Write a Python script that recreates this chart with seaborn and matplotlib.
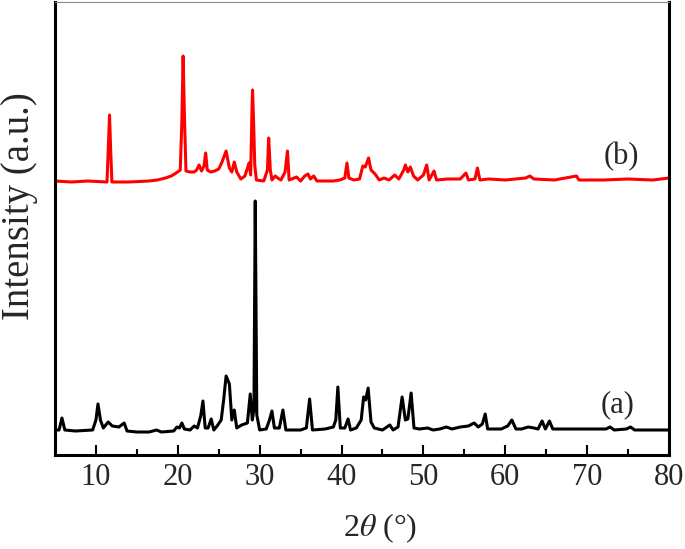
import numpy as np
import pandas as pd
import seaborn as sns
import matplotlib
matplotlib.use("Agg")
import matplotlib.pyplot as plt

sns.set_theme(style="white")
plt.rcParams['font.family'] = ['Liberation Serif', 'DejaVu Serif']
plt.rcParams['mathtext.fontset'] = 'stix'

# ---- data: 2theta (deg) and relative intensity (a.u.) ----
a_2theta = [5.0, 5.5, 5.85, 6.2, 7.5, 9.6, 10.0, 10.25, 10.55, 10.9, 11.5, 12.0, 12.8, 13.45, 13.8,
            15.0, 16.5, 17.4, 18.0, 19.5, 19.9, 20.2, 20.5, 20.8, 21.5, 22.0, 22.4, 22.8, 23.07,
            23.35, 23.7, 24.08, 24.4, 24.8, 25.3, 25.6, 25.9, 26.3, 26.6, 26.9, 27.2, 27.8, 28.5,
            28.85, 29.1, 29.3, 29.46, 29.65, 30.0, 30.8, 31.2, 31.5, 31.8, 32.4, 32.84, 33.2, 35.0,
            35.7, 36.1, 36.45, 38.0, 39.0, 39.3, 39.55, 39.85, 40.4, 40.8, 41.1, 41.8, 42.4, 42.7,
            42.95, 43.25, 43.6, 44.0, 45.0, 45.9, 46.3, 46.9, 47.4, 47.8, 48.1, 48.5, 48.85, 49.5,
            50.5, 51.2, 52.0, 52.8, 53.5, 54.5, 55.5, 56.2, 56.7, 57.2, 57.55, 57.85, 58.5, 59.5,
            60.3, 60.8, 61.3, 62.0, 62.8, 63.5, 64.0, 64.5, 64.9, 65.4, 65.8, 67.0, 69.0, 71.0,
            72.3, 72.8, 73.3, 74.8, 75.3, 75.8, 77.5, 80.0]
a_intensity = [0, 0, 12, 0, -1, 0, 10, 26, 10, 2, 8, 4, 3, 7, -1,
               -2, -2, 0, -2, -1, 3, 2, 7, 1, 0, 4, 2, 14, 29,
               2, 2, 11, 0, 4, 10, 30, 54, 46, 10, 20, 2, 5, 7,
               36, 10, 20, 229, 15, 0, 1, 10, 19, 2, 2, 20, 0, 0,
               2, 31, 0, 1, 3, 10, 43, 2, 2, 11, 0, 2, 10, 33,
               30, 42, 8, 2, 0, 5, 0, 3, 33, 10, 11, 37, 2, 1,
               2, 0, 1, 3, 1, 3, 4, 7, 3, 6, 16, 1, 1, 1,
               4, 10, 1, 1, 3, 2, 1, 9, 1, 9, 1, 1, 1, 1,
               1, 3, 0, 1, 3, 0, 0, 0]

b_2theta = [5.0, 7.0, 9.0, 11.35, 11.55, 11.66, 11.8, 11.95, 14.0, 16.5, 17.5, 18.5, 19.2, 19.8,
            20.3, 20.5, 20.65, 20.82, 21.0, 21.5, 22.0, 22.3, 22.6, 22.9, 23.2, 23.4, 23.6, 24.0,
            24.5, 25.0, 25.4, 25.9, 26.3, 26.6, 26.9, 27.2, 27.7, 28.2, 28.7, 28.9, 29.05, 29.13,
            29.25, 29.4, 29.6, 30.5, 30.95, 31.1, 31.3, 31.5, 31.9, 32.2, 32.6, 33.1, 33.4, 33.6,
            34.5, 35.0, 35.5, 35.9, 36.2, 36.6, 37.0, 39.0, 39.8, 40.4, 40.66, 40.9, 41.5, 42.2,
            42.6, 42.9, 43.3, 43.6, 44.1, 44.6, 45.2, 45.8, 46.5, 47.0, 47.6, 47.8, 48.1, 48.4,
            48.8, 49.3, 50.0, 50.4, 50.7, 51.3, 51.6, 53.0, 54.5, 55.2, 55.5, 56.3, 56.6, 56.9,
            58.0, 60.0, 62.5, 63.0, 63.5, 66.0, 68.7, 69.0, 72.0, 75.0, 78.0, 80.0]
b_intensity = [0, -1, 0, -1, 41, 66, 31, -1, -1, 0, 1, 3, 5, 8,
               11, 61, 125, 61, 10, 9, 9, 11, 16, 10, 15, 28, 11, 9,
               10, 12, 19, 30, 13, 9, 19, 9, 2, 5, 18, 6, 66, 91,
               61, 16, 1, 0, 11, 43, 11, 1, 5, 3, 1, 9, 30, 1,
               4, 0, 5, 7, 2, 5, 0, 0, 1, 3, 18, 3, 1, 2,
               15, 14, 23, 11, 7, 1, 3, 1, 6, 2, 11, 16, 9, 14,
               5, 1, 6, 16, 1, 10, 1, 2, 2, 8, 1, 2, 13, 1,
               2, 1, 3, 5, 2, 1, 5, 1, 1, 2, 1, 3]

labels = ["(a)", "(b)"]
offsets = [25, 274]          # vertical stacking offsets
colors = ["black", "#ff0000"]
x_ticks = [10, 20, 30, 40, 50, 60, 70, 80]

df = pd.concat([
    pd.DataFrame({"2theta": a_2theta, "I": np.array(a_intensity) + offsets[0], "sample": labels[0]}),
    pd.DataFrame({"2theta": b_2theta, "I": np.array(b_intensity) + offsets[1], "sample": labels[1]}),
])

fig = plt.figure(figsize=(6.85, 5.49), dpi=100)
ax = fig.add_axes([55 / 685, 1 - 455 / 549, 614 / 685, 453 / 549])

sns.lineplot(data=df, x="2theta", y="I", hue="sample", palette=dict(zip(labels, colors)),
             estimator=None, sort=False, linewidth=2.2, legend=False, ax=ax)

ax.set_xlim(5, 80)
ax.set_ylim(0, 453)
ax.set_xticks(x_ticks)
ax.set_xticks(np.arange(15, 80, 10), minor=True)
ax.set_yticks([])
ax.tick_params(axis='x', which='major', direction='in', length=7, width=1.5,
               labelsize=22, pad=6, color='black', bottom=True, top=False)
ax.tick_params(axis='x', which='minor', direction='in', length=4, width=1.5,
               bottom=True, top=False, color='black')

for side in ['left', 'right', 'bottom']:
    ax.spines[side].set_linewidth(2.2)
    ax.spines[side].set_color('black')
ax.spines['top'].set_linewidth(0.8)
ax.spines['top'].set_color('#888888')

ax.set_xlabel(r"2$\theta$ (°)", fontsize=23)
ax.xaxis.set_label_coords(0.53, -0.125)
ax.set_ylabel("Intensity (a.u.)", fontsize=28)
ax.yaxis.set_label_coords(-0.027, 0.55)

ax.text(73.7, offsets[0] + 25, labels[0], fontsize=22, ha='center', va='center')
ax.text(74.2, offsets[1] + 24, labels[1], fontsize=22, ha='center', va='center')

fig.savefig("out.png", dpi=100)
